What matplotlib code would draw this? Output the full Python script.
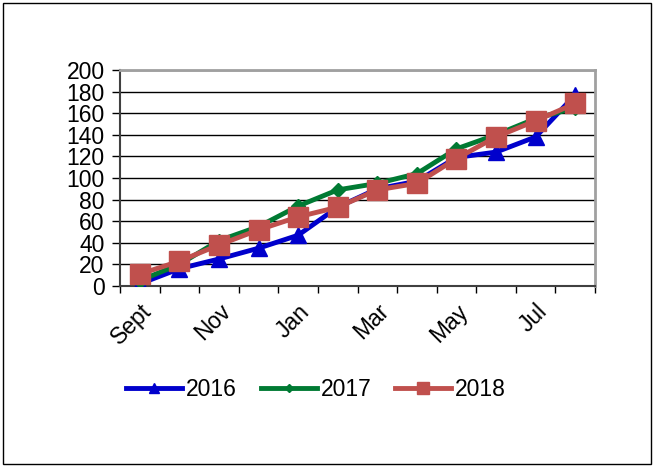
import numpy as np
import matplotlib.pyplot as plt
from matplotlib.patches import Rectangle

plt.rcParams['font.family'] = ['Liberation Sans', 'DejaVu Sans']

months = ["Sept", "Oct", "Nov", "Dec", "Jan", "Feb", "Mar", "Apr", "May", "Jun", "Jul", "Aug"]
y2016 = [2, 16, 25, 35, 47, 73, 90, 97, 119, 124, 138, 177]
y2017 = [5, 20, 42, 55, 74, 89, 95, 104, 127, 140, 155, 165]
y2018 = [11, 23, 38, 52, 64, 73, 89, 95, 118, 138, 153, 169]

fig = plt.figure(figsize=(6.54, 4.67), dpi=100)
ax = fig.add_axes([120 / 654, 1 - 286 / 467, 475 / 654, 216 / 467])

x = np.arange(len(months))
ax.plot(x, y2016, color="#0000CC", lw=3.5, marker="^", ms=11, label="2016", zorder=3)
ax.plot(x, y2017, color="#007A33", lw=3.5, marker="D", ms=7, label="2017", zorder=4)
ax.plot(x, y2018, color="#C0504D", lw=3.5, marker="s", ms=14, label="2018", zorder=5)

ax.set_xlim(-0.5, len(months) - 0.5)
ax.set_ylim(0, 200)
ax.set_yticks(range(0, 201, 20))
ax.yaxis.grid(True, color="black", lw=1)
ax.set_axisbelow(True)

ax.set_xticks(np.arange(-0.5, len(months), 1))
ax.set_xticklabels([])
ax.set_xticks(x[::2], minor=True)
ax.set_xticklabels(months[::2], minor=True, rotation=45, ha="right", va="top",
                   rotation_mode="anchor", fontsize=16.5)
ax.tick_params(axis="x", which="minor", length=0, pad=10)
ax.tick_params(axis="x", which="major", length=5, width=1, direction="out")
ax.tick_params(axis="y", length=6, width=1, direction="out", labelsize=16.5, pad=5)

for side in ["top", "right"]:
    ax.spines[side].set_color("#A0A0A0")
    ax.spines[side].set_linewidth(2)
for side in ["left", "bottom"]:
    ax.spines[side].set_color("#404040")
    ax.spines[side].set_linewidth(1.5)

fig.legend(loc="center", bbox_to_anchor=(316 / 654, 1 - 390 / 467), ncol=3, frameon=False,
           fontsize=16.5, handlelength=2.45, handletextpad=0.15, columnspacing=1.05,
           markerscale=0.65)

fig.patches.append(Rectangle((3 / 654, 3 / 467), 648 / 654, 461 / 467, transform=fig.transFigure,
                             fill=False, edgecolor="black", lw=1))

fig.savefig("out.png", dpi=100)
